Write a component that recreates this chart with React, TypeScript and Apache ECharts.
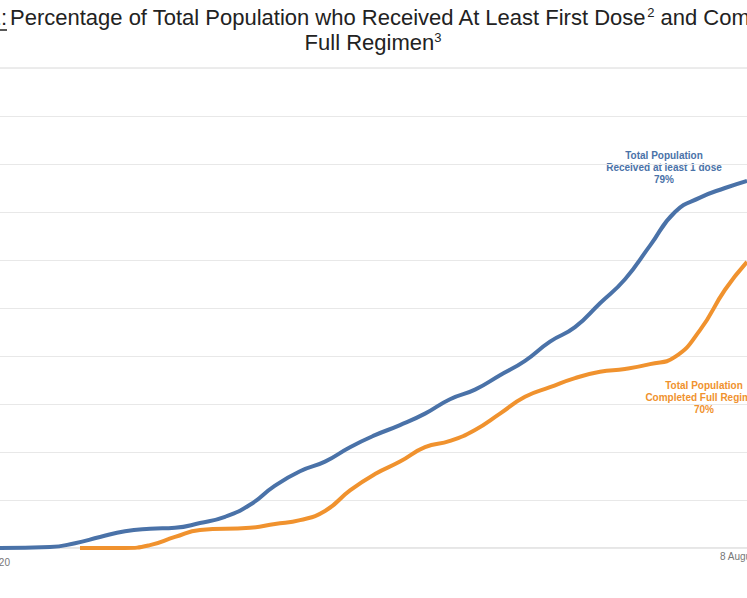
import React, { useEffect, useRef } from "react";
import * as echarts from "echarts";

const xs = [0, 50, 75, 100, 125, 150, 175, 200, 225, 250, 275, 300, 325, 350, 375, 400, 425, 450, 475, 500, 525, 550, 575, 600, 625, 650, 675, 700, 725, 747];
const firstDose = [0, 0.2, 1, 2.3, 3.5, 4, 4.2, 5.2, 6.5, 9, 13, 16, 18, 21, 23.5, 25.6, 28, 31, 33, 36, 39, 43, 46, 51, 56, 63, 70, 73, 75, 76.5];
const xs2 = [80, 125, 150, 175, 200, 250, 275, 300, 325, 350, 375, 400, 425, 450, 475, 500, 525, 550, 575, 600, 625, 650, 675, 700, 725, 747];
const fullRegimen = [0, 0, 0.6, 2.3, 3.75, 4.2, 5, 5.8, 7.7, 12, 15.4, 18, 21, 22.3, 24.6, 28, 31.5, 33.5, 35.4, 36.7, 37.3, 38.3, 39.8, 45.4, 53.8, 59.6];

export default function App() {
  const ref = useRef<HTMLDivElement>(null);
  useEffect(() => {
    const chart = echarts.init(ref.current!, null, { renderer: "svg" });
    const font = "Liberation Sans, Arial, sans-serif";
    chart.setOption({
      animation: false,
      grid: { left: 0, right: 0, top: 116, bottom: 50 },
      xAxis: { type: "value", min: 0, max: 747, show: false },
      yAxis: {
        type: "value", min: 0, max: 90, interval: 10,
        axisLabel: { show: false }, axisLine: { show: false }, axisTick: { show: false },
        splitLine: { lineStyle: { color: "#e8e8e8" } },
      },
      series: [
        { type: "line", data: xs.map((x, i) => [x, firstDose[i]]), showSymbol: false, smooth: true, lineStyle: { color: "#4a72a8", width: 4 } },
        { type: "line", data: xs2.map((x, i) => [x, fullRegimen[i]]), showSymbol: false, smooth: true, lineStyle: { color: "#f0922e", width: 4 } },
      ],
      graphic: [
        { type: "line", shape: { x1: 0, y1: 68, x2: 747, y2: 68 }, style: { stroke: "#d8d8d8", lineWidth: 1 } },
        { type: "line", shape: { x1: 0, y1: 548, x2: 747, y2: 548 }, style: { stroke: "#cccccc", lineWidth: 1 } },
        { type: "text", x: 7, y: 6, style: { text: "1:", textAlign: "right", font: `22px ${font}`, fill: "#222" } },
        { type: "line", shape: { x1: 0, y1: 30, x2: 7, y2: 30 }, style: { stroke: "#222", lineWidth: 1.5 } },
        {
          type: "text", x: 10, y: 6,
          style: {
            text: "Percentage of Total Population who Received At Least First Dose{s|2} and Completed",
            font: `22px ${font}`, fill: "#222",
            rich: { s: { fontSize: 13, padding: [0, 0, 9, 0], fill: "#222" } },
          },
        },
        {
          type: "text", x: 373, y: 31,
          style: {
            text: "Full Regimen{s|3}", textAlign: "center", font: `22px ${font}`, fill: "#222",
            rich: { s: { fontSize: 13, padding: [0, 0, 9, 0], fill: "#222" } },
          },
        },
        { type: "text", x: 664, y: 149, style: { text: "Total Population\nReceived at least 1 dose\n79%", textAlign: "center", font: `bold 10px ${font}`, lineHeight: 12, fill: "#4a72a8" } },
        { type: "text", x: 704, y: 379, style: { text: "Total Population\nCompleted Full Regimen\n70%", textAlign: "center", font: `bold 10px ${font}`, lineHeight: 12, fill: "#f0922e" } },
        { type: "text", x: 10, y: 557, style: { text: "2020", textAlign: "right", font: `10px ${font}`, fill: "#777" } },
        { type: "text", x: 720, y: 551, style: { text: "8 August", font: `10px ${font}`, fill: "#777" } },
      ],
    });
    return () => chart.dispose();
  }, []);
  return <div ref={ref} style={{ position: "fixed", left: 0, top: 0, width: 747, height: 598, background: "#fff" }} />;
}
